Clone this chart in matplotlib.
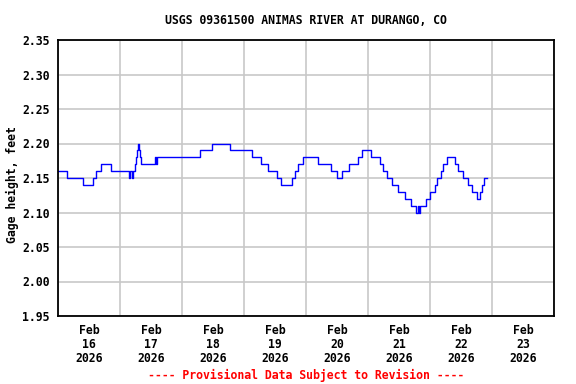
import numpy as np
import matplotlib
matplotlib.use("Agg")
import matplotlib.pyplot as plt
import matplotlib.dates as mdates

# gage height changes: hours after 2026-02-16 00:00 and the new value (feet)
change_hours = [0.0, 3.3, 9.8, 13.7, 14.9, 16.5, 20.7, 27.4, 27.9, 28.6,
                29.2, 29.8, 30.2, 30.6, 30.9, 31.5, 31.7, 32.2, 37.4, 37.8,
                38.4, 55.0, 59.6, 66.6, 75.0, 78.5, 81.2, 84.7, 86.2, 90.7,
                91.7, 92.9, 94.9, 100.5, 105.7, 107.9, 110.0, 112.8, 116.2, 117.8,
                121.2, 124.6, 125.9, 127.2, 129.4, 131.7, 134.3, 136.6, 138.6, 139.3,
                139.6, 140.1, 142.5, 144.0, 145.9, 146.6, 148.1, 149.2, 150.6, 153.7,
                155.0, 156.8, 158.8, 160.1, 162.3, 163.4, 164.1, 164.9, 166.0]
gage_ft = [2.16, 2.15, 2.14, 2.15, 2.16, 2.17, 2.16, 2.15, 2.16, 2.15,
           2.16, 2.17, 2.18, 2.19, 2.20, 2.19, 2.18, 2.17, 2.18, 2.17,
           2.18, 2.19, 2.20, 2.19, 2.18, 2.17, 2.16, 2.15, 2.14, 2.15,
           2.16, 2.17, 2.18, 2.17, 2.16, 2.15, 2.16, 2.17, 2.18, 2.19,
           2.18, 2.17, 2.16, 2.15, 2.14, 2.13, 2.12, 2.11, 2.10, 2.11,
           2.10, 2.11, 2.12, 2.13, 2.14, 2.15, 2.16, 2.17, 2.18, 2.17,
           2.16, 2.15, 2.14, 2.13, 2.12, 2.13, 2.14, 2.15, 2.15]

title = "USGS 09361500 ANIMAS RIVER AT DURANGO, CO"
ylabel = "Gage height, feet"
footer = "---- Provisional Data Subject to Revision ----"

start = np.datetime64("2026-02-16T00:00")
times = start + (np.array(change_hours) * 60).astype("timedelta64[m]")

font = "DejaVu Sans Mono"
fs = 8.3

fig = plt.figure(figsize=(5.76, 3.84), dpi=100)
ax = fig.add_axes([58 / 576, 1 - 316 / 384, 496 / 576, 276 / 384])

ax.plot(times, gage_ft, drawstyle="steps-post", color="#0000ff", lw=1.0)

ax.set_xlim(start, start + np.timedelta64(8, "D"))
ax.set_ylim(1.95, 2.35)
ax.set_yticks(np.arange(1.95, 2.351, 0.05))
ax.yaxis.set_major_formatter(matplotlib.ticker.FormatStrFormatter("%.2f"))

ax.xaxis.set_major_locator(mdates.DayLocator())
ax.xaxis.set_major_formatter(matplotlib.ticker.NullFormatter())
ax.xaxis.set_minor_locator(mdates.HourLocator(byhour=12))
ax.xaxis.set_minor_formatter(mdates.DateFormatter("%b\n%d\n%Y"))

ax.grid(True, which="major", color="#c8c8c8", lw=1.2)
ax.set_axisbelow(True)
ax.tick_params(which="both", length=0)
ax.tick_params(axis="y", pad=6)
ax.tick_params(axis="x", which="minor", pad=6)
for lab in ax.get_yticklabels() + ax.get_xticklabels(minor=True):
    lab.set_fontfamily(font)
    lab.set_fontsize(fs)
    lab.set_fontweight("bold")
for lab in ax.get_xticklabels(minor=True):
    lab.set_linespacing(1.1)
for sp in ax.spines.values():
    sp.set_linewidth(1.3)
    sp.set_color("black")

fig.text(12 / 576, 1 - 185 / 384, ylabel, rotation=90, ha="center", va="center",
         family=font, fontsize=fs, fontweight="bold")
fig.text(306 / 576, 1 - 20 / 384, title, ha="center", va="center",
         family=font, fontsize=fs, fontweight="bold")
fig.text(306 / 576, 1 - 375 / 384, footer, ha="center", va="center",
         family=font, fontsize=fs, fontweight="bold", color="#ff0000")

fig.savefig("out.png", dpi=100)
